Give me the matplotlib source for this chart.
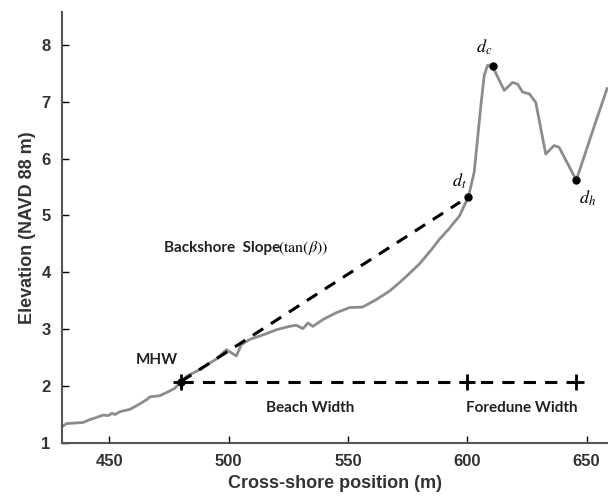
import matplotlib
matplotlib.use("Agg")
import matplotlib.pyplot as plt

# cross-shore profile
pos = [430, 432, 439, 441.8, 444, 447.4, 449.5, 451, 452.4, 454.4, 458.6, 462, 465.6,
       467, 471.1, 474.6, 477.4, 480, 482.3, 486.5, 490, 495, 499, 503.2, 505.3, 508.8,
       514.4, 520, 525.5, 528.3, 531.1, 533.2, 535.3, 539.5, 545.1, 550.6, 556.2, 561.8,
       567.4, 571.6, 575, 580, 585, 588.3, 592, 596.7, 600.5, 602.9, 604.3, 605.7, 607.1,
       608.5, 610.6, 615.5, 619, 621.1, 623.2, 626, 628.7, 632.9, 636.4, 638.5, 645.7,
       649.6, 653.8, 658.6]
elev = [1.28, 1.34, 1.36, 1.41, 1.44, 1.49, 1.48, 1.52, 1.50, 1.55, 1.59, 1.67, 1.76,
        1.81, 1.83, 1.90, 1.96, 2.08, 2.17, 2.26, 2.35, 2.48, 2.64, 2.53, 2.73, 2.82,
        2.90, 2.99, 3.05, 3.07, 3.01, 3.11, 3.05, 3.17, 3.29, 3.38, 3.39, 3.52,
        3.67, 3.82, 3.95, 4.15, 4.40, 4.58, 4.75, 4.99, 5.33, 5.76, 6.34, 6.93, 7.46,
        7.64, 7.62, 7.20, 7.34, 7.31, 7.17, 7.14, 6.99, 6.08, 6.23, 6.20, 5.62,
        6.11, 6.64, 7.23]

mhw = (480, 2.08)
d_t = (600.5, 5.33)
d_c = (610.6, 7.62)
d_h = (645.7, 5.62)
width_marks = [480, 600, 645.7]

plt.rcParams['font.family'] = ['Liberation Sans', 'DejaVu Sans']

fig = plt.figure(figsize=(6.08, 4.96), dpi=100)
ax = fig.add_axes([0.1015, 0.107, 0.8985, 0.869])

ax.plot(pos, elev, color='#8c8c8c', lw=2)

# backshore slope line
ax.plot([mhw[0], 597], [mhw[1], mhw[1] + (597 - mhw[0]) * (d_t[1] - mhw[1]) / (d_t[0] - mhw[0])],
        'k--', lw=2.2, dashes=(4, 3))
# widths
ax.plot([width_marks[0], width_marks[-1]], [mhw[1]] * 2, 'k--', lw=2.2, dashes=(4, 3))
ax.plot(width_marks, [mhw[1]] * 3, 'k+', ms=11, mew=2)

ax.plot([mhw[0], d_t[0], d_c[0], d_h[0]], [mhw[1], d_t[1], d_c[1], d_h[1]], 'ko', ms=5)

bold = dict(fontweight='bold', fontsize=11, color='#222222', family=['Lato', 'DejaVu Sans'])
ax.text(461, 2.45, 'MHW', ha='left', va='center', **bold)
ax.text(473, 4.42, 'Backshore  Slope', ha='left', va='center', **bold)
ax.text(520.5, 4.42, r'$(\mathrm{tan}(\beta))$', ha='left', va='center', fontsize=11.5,
        math_fontfamily='stix')
ax.text(534, 1.62, 'Beach Width', ha='center', va='center', **bold)
ax.text(623, 1.62, 'Foredune Width', ha='center', va='center', **bold)

ax.text(596.5, 5.6, r'$d_t$', ha='center', va='center', fontsize=13, math_fontfamily='stix')
ax.text(607, 7.95, r'$d_c$', ha='center', va='center', fontsize=13, math_fontfamily='stix')
ax.text(650.5, 5.3, r'$d_h$', ha='center', va='center', fontsize=13, math_fontfamily='stix')

ax.set_xlim(430, 659)
ax.set_ylim(1, 8.58)
ax.set_xticks([450, 500, 550, 600, 650])
ax.set_yticks([1, 2, 3, 4, 5, 6, 7, 8])
ax.tick_params(direction='in', length=5, width=1, labelsize=12, pad=8)
for lab in ax.get_xticklabels() + ax.get_yticklabels():
    lab.set_fontweight('bold')
    lab.set_color('#333333')
ax.spines['top'].set_visible(False)
ax.spines['right'].set_visible(False)
ax.spines['left'].set_color('#555555')
ax.spines['bottom'].set_color('#555555')
ax.spines['left'].set_linewidth(1.5)
ax.spines['bottom'].set_linewidth(1.5)

ax.set_xlabel('Cross-shore position (m)', fontsize=13, fontweight='bold', color='#333333')
ax.set_ylabel('Elevation (NAVD 88 m)', fontsize=13, fontweight='bold', color='#333333')

fig.savefig('out.png', dpi=100)
